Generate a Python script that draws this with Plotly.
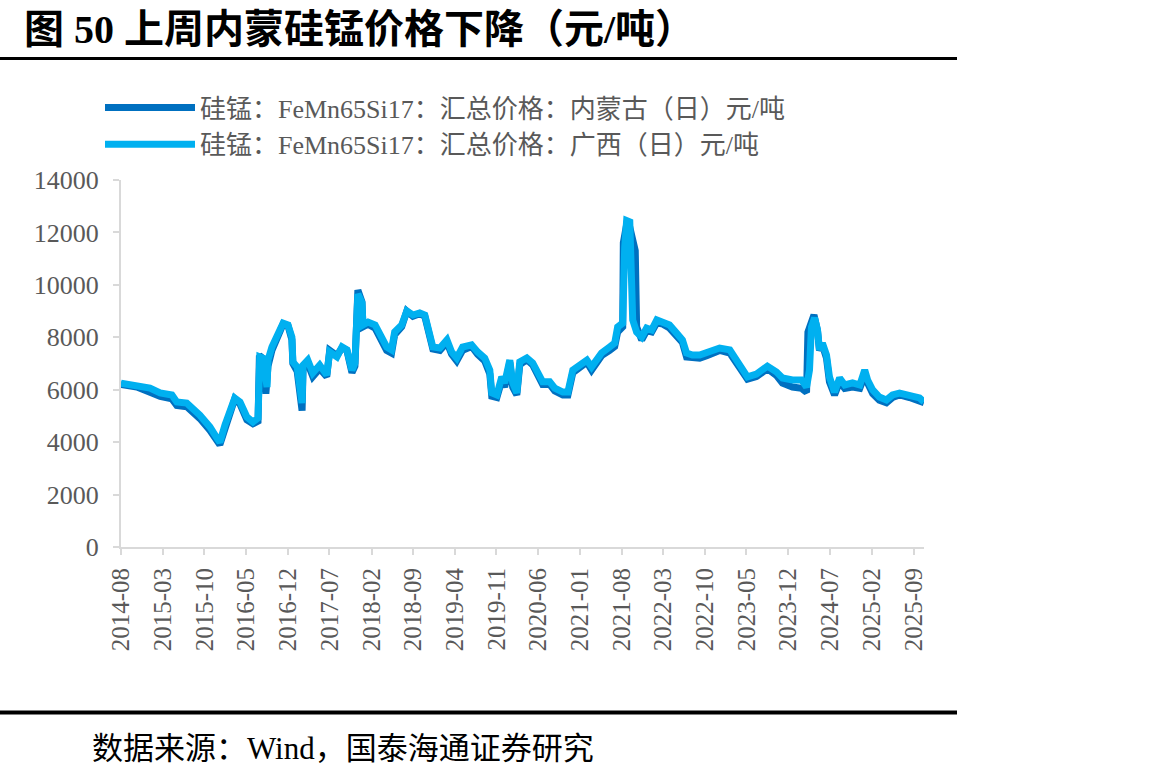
import plotly.graph_objects as go

# ---------------- data ----------------
GX_DATES = ["2014-08-01","2014-10-21","2014-12-27","2015-02-17","2015-04-18","2015-05-13","2015-07-03",
            "2015-09-08","2015-10-29","2015-12-09","2015-12-19","2016-01-14","2016-02-09","2016-03-04",
            "2016-03-31","2016-05-05","2016-06-05","2016-07-01","2016-07-10","2016-07-26","2016-08-16",
            "2016-08-21","2016-09-10","2016-10-06","2016-11-06","2016-12-01","2016-12-21","2016-12-26",
            "2017-01-17","2017-02-11","2017-02-16","2017-03-12","2017-04-07","2017-05-12","2017-06-17",
            "2017-07-02","2017-08-08","2017-09-03","2017-09-28","2017-10-24","2017-11-08","2017-11-23",
            "2017-12-14","2017-12-19","2018-01-14","2018-02-19","2018-03-14","2018-04-19","2018-05-14",
            "2018-05-30","2018-07-05","2018-07-31","2018-08-31","2018-10-05","2018-10-31","2018-11-26",
            "2018-12-11","2019-01-16","2019-02-21","2019-03-17","2019-04-12","2019-05-12","2019-06-27",
            "2019-07-28","2019-09-02","2019-09-28","2019-10-08","2019-11-03","2019-11-28","2019-12-13",
            "2020-01-08","2020-01-23","2020-02-13","2020-02-28","2020-04-04","2020-05-04","2020-05-29",
            "2020-06-24","2020-07-30","2020-08-25","2020-10-05","2020-10-31","2020-11-25","2020-12-31",
            "2021-02-05","2021-03-01","2021-03-26","2021-04-21","2021-06-01","2021-06-27","2021-07-12",
            "2021-08-07","2021-08-17","2021-08-27","2021-09-12","2021-09-22","2021-09-27","2021-10-17",
            "2021-11-12","2021-12-07","2022-01-02","2022-01-28","2022-02-28","2022-04-03","2022-05-09",
            "2022-06-08","2022-06-29","2022-07-29","2022-09-04","2022-10-10","2022-11-09","2022-12-15",
            "2023-02-05","2023-03-11","2023-04-10","2023-05-06","2023-06-21","2023-08-16","2023-10-01",
            "2023-11-01","2023-12-22","2024-02-07","2024-03-03","2024-03-18","2024-03-28","2024-04-13",
            "2024-04-28","2024-05-08","2024-05-23","2024-06-13","2024-06-28","2024-07-24","2024-08-19",
            "2024-09-14","2024-10-24","2024-11-30","2024-12-25","2025-01-09","2025-02-04","2025-03-10",
            "2025-04-15","2025-05-16","2025-06-21","2025-08-11","2025-10-01","2025-10-24"]
GX_VALUES = [6250,6180,6060,5880,5800,5530,5490,
             5030,4580,4100,4000,4650,5230,5680,
             5530,4960,4770,4920,7250,7200,6100,
             7130,7630,8010,8540,8470,8010,7060,
             6870,5490,6940,7130,6640,6940,6560,
             7440,7250,7630,7520,6750,7020,9650,
             9310,8470,8580,8470,8160,7630,7520,
             8200,8470,9000,8850,8930,8850,8090,
             7630,7590,7900,7440,7210,7630,7710,
             7440,7210,6750,5880,5800,6490,6260,
             7130,6260,5880,7060,7210,7020,6640,
             6300,6300,6060,5910,5910,6750,6940,
             7130,6870,7130,7400,7630,7780,8390,
             8540,11440,12450,12400,10070,8660,8200,
             8010,8350,8280,8660,8580,8470,8160,
             7900,7400,7320,7320,7400,7520,7590,
             7520,7130,6750,6490,6600,6900,6680,
             6450,6370,6370,6100,6750,8390,8740,
             8280,7520,7780,7320,6490,5910,6450,
             6180,6260,6180,6750,6370,5990,5720,
             5610,5800,5870,5800,5690,5530]

NM_DATES = ["2014-08-01","2014-10-21","2014-12-27","2015-02-17","2015-04-18","2015-05-13","2015-07-03",
            "2015-09-08","2015-10-29","2015-12-09","2015-12-19","2016-01-14","2016-02-09","2016-03-04",
            "2016-03-31","2016-05-05","2016-06-05","2016-07-01","2016-07-08","2016-07-26","2016-08-10",
            "2016-08-21","2016-09-10","2016-10-06","2016-11-06","2016-12-01","2016-12-21","2016-12-26",
            "2017-01-17","2017-02-11","2017-02-16","2017-03-12","2017-04-07","2017-05-12","2017-06-17",
            "2017-07-02","2017-08-08","2017-09-03","2017-09-28","2017-10-24","2017-11-08","2017-11-23",
            "2017-12-14","2017-12-19","2018-01-14","2018-02-19","2018-03-14","2018-04-19","2018-05-14",
            "2018-05-30","2018-07-05","2018-07-31","2018-08-31","2018-10-05","2018-10-31","2018-11-26",
            "2018-12-11","2019-01-16","2019-02-21","2019-03-17","2019-04-12","2019-05-12","2019-06-27",
            "2019-07-28","2019-09-02","2019-09-28","2019-10-08","2019-11-03","2019-11-28","2019-12-13",
            "2020-01-08","2020-01-23","2020-02-13","2020-02-28","2020-04-04","2020-05-04","2020-05-29",
            "2020-06-24","2020-07-30","2020-08-25","2020-10-05","2020-10-31","2020-11-25","2020-12-31",
            "2021-02-05","2021-03-01","2021-03-26","2021-04-21","2021-06-01","2021-06-27","2021-07-12",
            "2021-08-07","2021-08-10","2021-08-27","2021-09-12","2021-10-10","2021-10-17","2021-11-12",
            "2021-12-07","2022-01-02","2022-01-28","2022-02-28","2022-04-03","2022-05-09","2022-06-08",
            "2022-06-29","2022-07-29","2022-09-04","2022-10-10","2022-11-09","2022-12-15","2023-02-05",
            "2023-03-11","2023-04-10","2023-05-06","2023-06-21","2023-08-16","2023-10-01","2023-11-01",
            "2023-12-22","2024-02-07","2024-03-03","2024-03-10","2024-04-10","2024-04-28","2024-05-08",
            "2024-05-23","2024-06-13","2024-06-28","2024-07-24","2024-08-19","2024-09-14","2024-10-24",
            "2024-11-30","2024-12-25","2025-01-09","2025-02-04","2025-03-10","2025-04-15","2025-05-16",
            "2025-06-21","2025-08-11","2025-10-01","2025-10-24"]
NM_VALUES = [6200,6100,5900,5750,5650,5400,5350,
             4900,4450,4000,3900,4500,5100,5650,
             5450,4850,4700,4800,7300,7200,5850,
             6900,7500,7900,8500,8450,7900,7000,
             6700,5200,6800,7000,6500,6800,6500,
             7500,7300,7600,7500,6650,6900,9800,
             9350,8400,8500,8350,8050,7500,7400,
             8100,8400,9000,8800,8900,8800,8000,
             7550,7500,7800,7350,7100,7500,7650,
             7350,7100,6600,5750,5700,6350,6100,
             7050,6100,5800,6950,7150,6950,6550,
             6200,6200,5950,5800,5800,6650,6850,
             7050,6750,7050,7300,7500,7650,8200,
             8400,11600,12300,12200,11300,8400,7900,
             8250,8200,8550,8500,8350,8050,7800,
             7250,7200,7200,7300,7400,7500,7400,
             7000,6650,6400,6500,6800,6550,6250,
             6100,6050,5900,8200,8850,8250,7500,
             7700,7200,6300,5800,6300,6050,6100,
             6050,6550,6250,5850,5600,5500,5700,
             5800,5700,5600,5500]

NAME_NM = "硅锰：FeMn65Si17：汇总价格：内蒙古（日）元/吨"
NAME_GX = "硅锰：FeMn65Si17：汇总价格：广西（日）元/吨"

TICK_DATES = ["2014-08-01","2015-03-01","2015-10-01","2016-05-01","2016-12-01","2017-07-01","2018-02-01",
              "2018-09-01","2019-04-01","2019-11-01","2020-06-01","2021-01-01","2021-08-01","2022-03-01",
              "2022-10-01","2023-05-01","2023-12-01","2024-07-01","2025-02-01","2025-09-01"]
TICK_TEXT = ["2014-08","2015-03","2015-10","2016-05","2016-12","2017-07","2018-02",
             "2018-09","2019-04","2019-11","2020-06","2021-01","2021-08","2022-03",
             "2022-10","2023-05","2023-12","2024-07","2025-02","2025-09"]

TITLE = "图 50 上周内蒙硅锰价格下降（元/吨）"
SOURCE = "数据来源：Wind，国泰海通证券研究"

# ---------------- layout helpers ----------------
W, H = 1154, 781
L, R, T, B = 121, 924, 180, 547


def px_x(px):
    return (px - L) / (R - L)


def px_y(py):
    return (B - py) / (B - T)


SERIF = "Liberation Serif, Times New Roman, Noto Sans CJK SC, serif"

fig = go.Figure()
fig.add_trace(go.Scatter(x=NM_DATES, y=NM_VALUES, mode="lines", name=NAME_NM,
                         line=dict(color="#0070C0", width=7)))
fig.add_trace(go.Scatter(x=GX_DATES, y=GX_VALUES, mode="lines", name=NAME_GX,
                         line=dict(color="#00B0F0", width=7)))

fig.update_layout(
    width=W, height=H,
    margin=dict(l=L, r=W - R, t=T, b=H - B, pad=0),
    paper_bgcolor="white", plot_bgcolor="white",
    showlegend=True,
    legend=dict(x=px_x(100), y=px_y(84), xanchor="left", yanchor="top",
                font=dict(family=SERIF, size=26, color="#595959"),
                itemwidth=90, bgcolor="rgba(0,0,0,0)", tracegroupgap=0),
    font=dict(family=SERIF, color="#595959"),
)

fig.update_xaxes(type="date", range=["2014-08-01", "2025-10-24"],
                 tickmode="array", tickvals=TICK_DATES, ticktext=TICK_TEXT,
                 tickangle=-90, tickfont=dict(family=SERIF, size=25, color="#595959"),
                 showline=True, linecolor="#D9D9D9", linewidth=2,
                 ticks="outside", ticklen=6, tickcolor="#D9D9D9", tickwidth=2,
                 ticklabelstandoff=3, showgrid=False, zeroline=False)
fig.update_yaxes(range=[0, 14000], tickvals=[0, 2000, 4000, 6000, 8000, 10000, 12000, 14000],
                 tickformat="d", tickfont=dict(family=SERIF, size=26, color="#595959"),
                 showline=True, linecolor="#D9D9D9", linewidth=2,
                 ticks="outside", ticklen=6, tickcolor="#D9D9D9", tickwidth=2,
                 ticklabelstandoff=9, showgrid=False, zeroline=False)

# title and source
fig.add_annotation(text=TITLE, xref="paper", yref="paper", x=px_x(22), y=px_y(29),
                   xanchor="left", yanchor="middle", showarrow=False,
                   font=dict(family="Liberation Serif, Noto Sans CJK SC", size=40, color="black", weight="bold"))
fig.add_annotation(text=SOURCE, xref="paper", yref="paper", x=px_x(90), y=px_y(748),
                   xanchor="left", yanchor="middle", showarrow=False,
                   font=dict(family=SERIF, size=31, color="black"))

fig.add_shape(type="line", xref="paper", yref="paper", x0=px_x(0), x1=px_x(957),
              y0=px_y(58.5), y1=px_y(58.5), line=dict(color="black", width=3))
fig.add_shape(type="line", xref="paper", yref="paper", x0=px_x(0), x1=px_x(957),
              y0=px_y(712.5), y1=px_y(712.5), line=dict(color="black", width=4))

fig.write_html("out.html")
